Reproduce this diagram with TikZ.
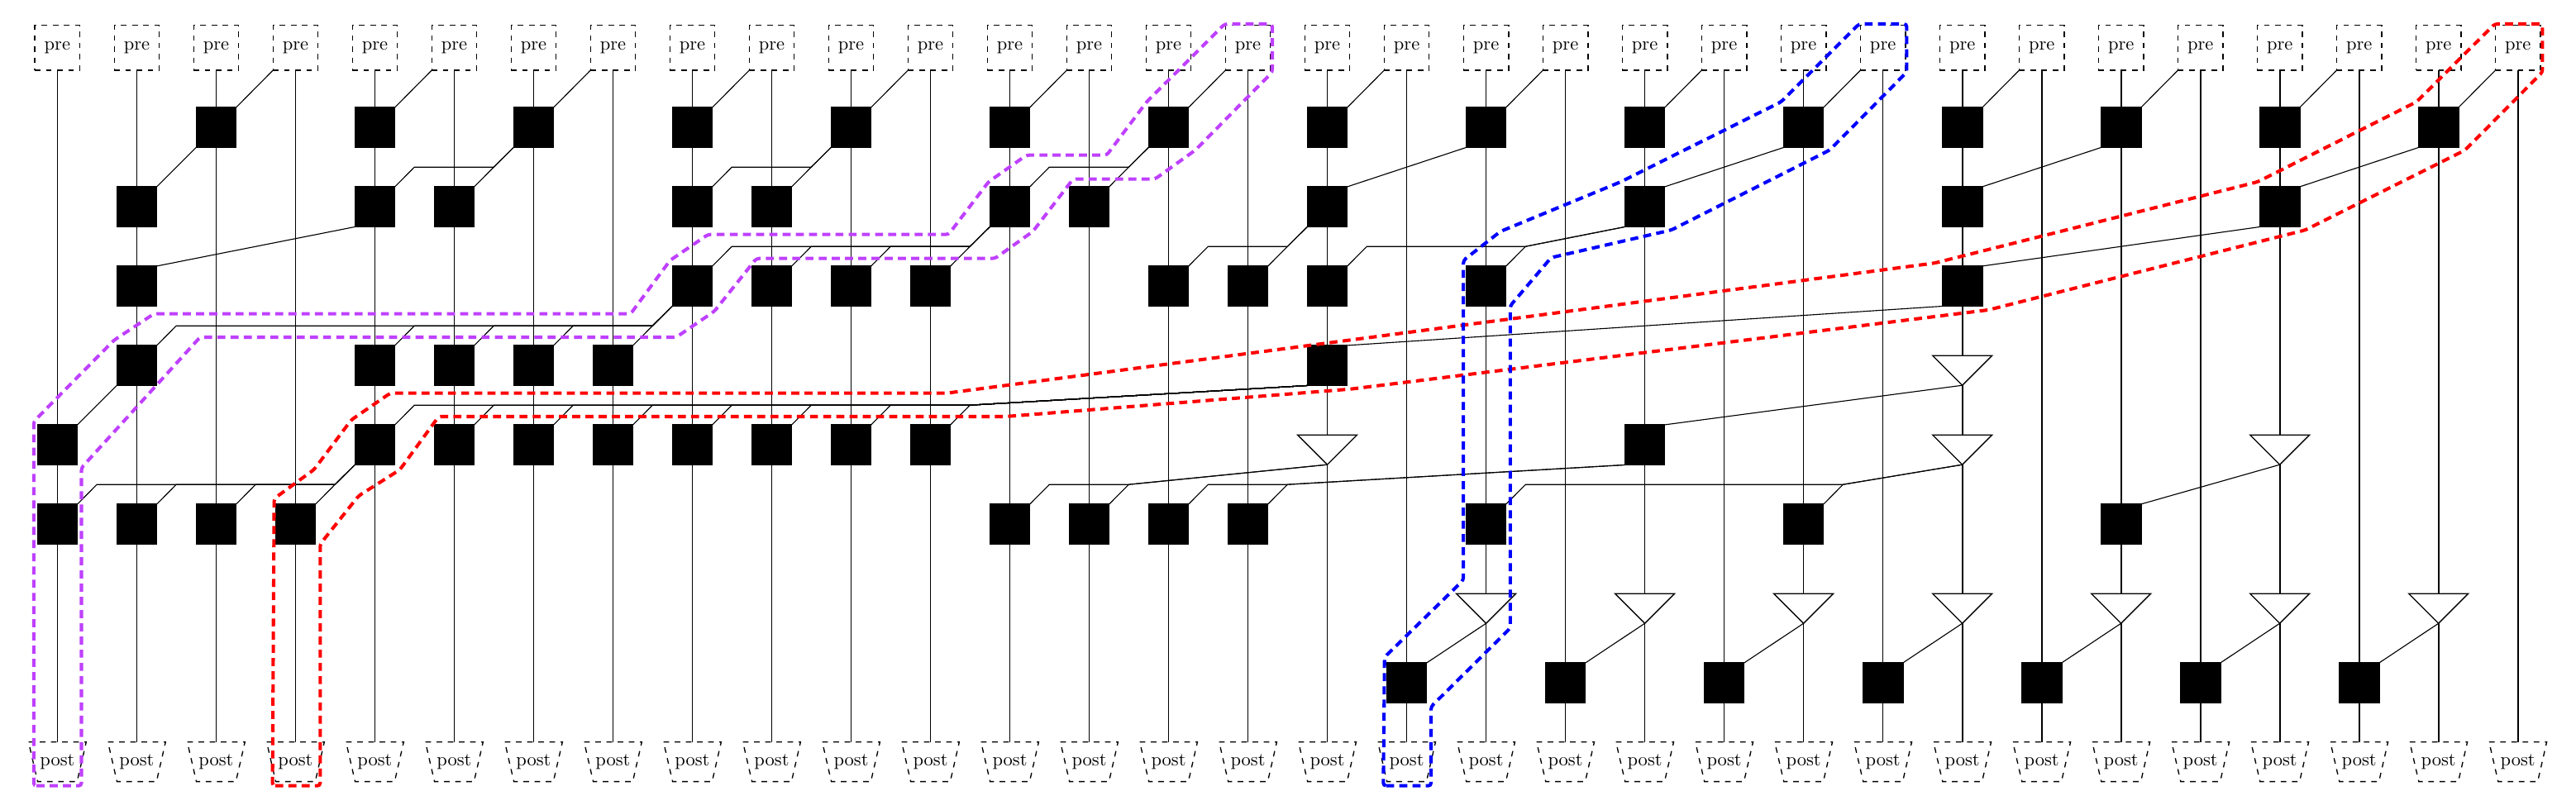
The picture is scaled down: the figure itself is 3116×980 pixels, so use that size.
\documentclass[tikz,border=0pt]{standalone}
\usetikzlibrary{shapes.geometric,calc}
\pgfdeclarelayer{wires}
\pgfsetlayers{wires,main}
\definecolor{hullpurple}{RGB}{191,64,255}
\tikzset{
  x=0.4444pt,y=-0.4444pt,
  gatebox/.style={rectangle,draw=black,fill=black,line width=0.4pt,minimum width=21.6pt,minimum height=21.6pt,inner sep=0pt,outer sep=0pt},
  prebox/.style={rectangle,draw=black,dashed,line width=0.6pt,minimum width=24.2pt,minimum height=24.2pt,inner sep=0pt,outer sep=0pt},
  postbox/.style={rectangle,minimum width=31pt,minimum height=21.3pt,inner sep=0pt,outer sep=0pt},
  postedge/.style={draw=black,dashed,line width=0.6pt},
  tri/.style={isosceles triangle,shape border rotate=-90,isosceles triangle stretches,draw=black,fill=white,line width=0.6pt,minimum width=32pt,minimum height=16pt,inner sep=0pt,outer sep=0pt},
  wire/.style={line width=0.5pt,draw=black},
  qwire/.style={line width=0.75pt,draw=black},
  hull/.style={line width=1.8pt,dash pattern=on 4.3pt off 2.8pt,rounded corners=1.5pt},
}
\newcommand{\colx}[1]{69.4+96.01*#1}
\newcommand{\rowy}[1]{154.2+96*(#1-1)}
\newcommand{\GateRow}[2]{%
  \foreach \c in {#2}{%
    \pgfmathsetmacro{\px}{\colx{\c}}\pgfmathsetmacro{\py}{\rowy{#1}}
    \node[gatebox] (g\c-#1) at (\px,\py) {};
    \coordinate (u\c-#1) at ($(g\c-#1.north east)+(23.5,-23.7)$);
  }}
\newcommand{\Tri}[2]{%
  \pgfmathsetmacro{\px}{\colx{#1}}\pgfmathsetmacro{\py}{\rowy{#2}+24}
  \node[tri,anchor=apex] (t#1-#2) at (\px,\py) {};
}
% parent point, nearest child, all children
\newcommand{\Fan}[3]{%
  \foreach \k in {#3}{\draw[wire] (#1) -- (u#2) -- (u\k) -- (g\k.north east);}
}
\begin{document}
\begin{tikzpicture}
\useasboundingbox (0,0) rectangle (3116,980);
% terminals
\foreach \c in {0,...,31}{
  \pgfmathsetmacro{\px}{\colx{\c}}
  \node[prebox] (pre\c) at (\px,57.8) {pre};
  \node[postbox] (post\c) at (\px,921.7) {post};
  \draw[postedge] (post\c.north west) -- (post\c.north east) -- ($(post\c.south east)+(-11,0)$) -- ($(post\c.south west)+(11,0)$) -- cycle;
}
% gates
\GateRow{1}{2,4,6,8,10,12,14,16,18,20,22,24,26,28,30}
\GateRow{2}{1,4,5,8,9,12,13,16,20,24,28}
\GateRow{3}{1,8,9,10,11,14,15,16,18,24}
\GateRow{4}{1,4,5,6,7,16}
\GateRow{5}{0,4,5,6,7,8,9,10,11,20}
\GateRow{6}{0,1,2,3,12,13,14,15,18,22,26}
\GateRow{8}{17,19,21,23,25,27,29}
% triangles
\Tri{24}{4}\Tri{16}{5}\Tri{24}{5}\Tri{28}{5}
\Tri{18}{7}\Tri{20}{7}\Tri{22}{7}\Tri{24}{7}\Tri{26}{7}\Tri{28}{7}\Tri{30}{7}
% connectors
\begin{pgfonlayer}{wires}
\foreach \c in {0,...,31}{\draw[qwire] (pre\c.south) -- (post\c.north);}
\foreach \k/\p in {2/3,4/5,6/7,8/9,10/11,12/13,14/15,16/17,18/19,20/21,22/23,24/25,26/27,28/29,30/31}
  {\draw[wire] (pre\p.south west) -- (g\k-1.north east);}
\draw[wire] (g2-1.south west) -- (g1-2.north east);
\draw[wire] (g4-2.south west) -- (g1-3.north east);
\draw[wire] (g18-1.south west) -- (g16-2.north east);
\draw[wire] (g22-1.south west) -- (g20-2.north east);
\draw[wire] (g26-1.south west) -- (g24-2.north east);
\draw[wire] (g30-1.south west) -- (g28-2.north east);
\draw[wire] (g28-2.south west) -- (g24-3.north east);
\draw[wire] (g24-3.south west) -- (g16-4.north east);
\draw[wire] (g1-4.south west) -- (g0-5.north east);
\draw[wire] (t24-4.apex) -- (g20-5.north east);
\draw[wire] (t28-5.apex) -- (g26-6.north east);
\foreach \k/\p in {18/17,20/19,22/21,24/23,26/25,28/27,30/29}
  {\draw[wire] (t\k-7.apex) -- (g\p-8.north east);}
\Fan{g6-1.south west}{5-2}{4-2,5-2}
\Fan{g10-1.south west}{9-2}{8-2,9-2}
\Fan{g14-1.south west}{13-2}{12-2,13-2}
\Fan{g12-2.south west}{11-3}{8-3,9-3,10-3,11-3}
\Fan{g16-2.south west}{15-3}{14-3,15-3}
\Fan{g20-2.south west}{18-3}{16-3,18-3}
\Fan{g8-3.south west}{7-4}{1-4,4-4,5-4,6-4,7-4}
\Fan{g16-4.south west}{11-5}{4-5,5-5,6-5,7-5,8-5,9-5,10-5,11-5}
\Fan{g4-5.south west}{3-6}{0-6,1-6,2-6,3-6}
\Fan{t16-5.apex}{13-6}{12-6,13-6}
\Fan{g20-5.south west}{15-6}{14-6,15-6}
\Fan{t24-5.apex}{22-6}{18-6,22-6}
\end{pgfonlayer}
% hulls
\draw[hull,hullpurple] (40.8,950.7) -- (98.5,950.7) -- (98.5,566) -- (242,408) -- (818,408) -- (864,376.7) -- (915,312.7) -- (1203.5,312.7) -- (1249.4,280) -- (1298,216.7) -- (1397,216.7) -- (1445.8,181.7) -- (1539,87.3) -- (1539,29) -- (1481.5,29) -- (1387,123.3) -- (1338.7,187.7) -- (1241.7,187.7) -- (1195.8,220) -- (1147.3,283.7) -- (856.5,283.7) -- (810.6,315) -- (762.8,379.7) -- (186.2,379.7) -- (137.8,411.7) -- (40.8,510) -- cycle;
\draw[hull,red] (329.6,950.7) -- (387.3,950.7) -- (387.3,658.3) -- (433.7,600) -- (483.7,568.3) -- (530.6,504) -- (1216.2,504) -- (1634,470.7) -- (2405,375) -- (2788.6,278.3) -- (2981.6,181.7) -- (3075.4,87.3) -- (3075.4,29) -- (3017.7,29) -- (2923,123.3) -- (2731,220) -- (2340,318.3) -- (1145,475.7) -- (472,475.7) -- (425,508) -- (380,568) -- (331.6,603.3) -- cycle;
\draw[hull,blue] (1673.3,950.7) -- (1731,950.7) -- (1731,855) -- (1826.8,760) -- (1826.8,370) -- (1876.3,311.7) -- (2021.7,278.3) -- (2213,181.7) -- (2306.4,87.3) -- (2306.4,29) -- (2248.8,29) -- (2154.4,123.3) -- (1960.5,220) -- (1815,280) -- (1770.2,315) -- (1770.2,701.7) -- (1674.8,795) -- cycle;
\end{tikzpicture}
\end{document}
